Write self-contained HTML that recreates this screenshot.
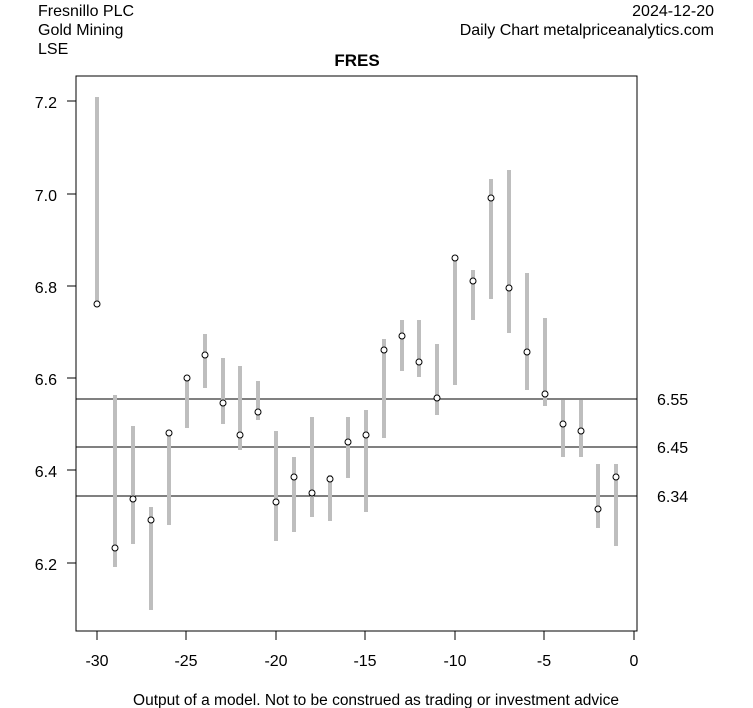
<!DOCTYPE html>
<html><head><style>body{margin:0;background:#fff}svg{display:block;font-family:"Liberation Sans",Arial,sans-serif}</style></head><body>
<svg width="753" height="708" xmlns="http://www.w3.org/2000/svg">
<rect width="753" height="708" fill="#fff"/>
<g font-size="16" fill="#000">
<text x="38" y="16">Fresnillo PLC</text>
<text x="38" y="35">Gold Mining</text>
<text x="38" y="54">LSE</text>
<text x="714" y="16" text-anchor="end">2024-12-20</text>
<text x="714" y="35" text-anchor="end">Daily Chart metalpriceanalytics.com</text>
<text x="357" y="66" text-anchor="middle" font-weight="bold" font-size="17">FRES</text>
<text x="376" y="705" text-anchor="middle" font-size="15.5">Output of a model. Not to be construed as trading or investment advice</text>
</g>
<rect x="76" y="76" width="561" height="555" fill="none" stroke="#000"/>
<g stroke="#000">
<line x1="67" y1="101" x2="76" y2="101"/><line x1="67" y1="194" x2="76" y2="194"/><line x1="67" y1="286" x2="76" y2="286"/><line x1="67" y1="378" x2="76" y2="378"/><line x1="67" y1="470" x2="76" y2="470"/><line x1="67" y1="563" x2="76" y2="563"/>
<line x1="97" y1="631" x2="97" y2="640"/><line x1="186" y1="631" x2="186" y2="640"/><line x1="276" y1="631" x2="276" y2="640"/><line x1="365" y1="631" x2="365" y2="640"/><line x1="455" y1="631" x2="455" y2="640"/><line x1="544" y1="631" x2="544" y2="640"/><line x1="634" y1="631" x2="634" y2="640"/>
<line x1="76" y1="399" x2="637" y2="399"/><line x1="76" y1="447" x2="637" y2="447"/><line x1="76" y1="496" x2="637" y2="496"/>
</g>
<g font-size="16" text-anchor="end">
<text x="57" y="108">7.2</text><text x="57" y="201">7.0</text><text x="57" y="293">6.8</text><text x="57" y="385">6.6</text><text x="57" y="477">6.4</text><text x="57" y="570">6.2</text>
</g>
<g font-size="16" text-anchor="middle">
<text x="97" y="666">-30</text><text x="186" y="666">-25</text><text x="276" y="666">-20</text><text x="365" y="666">-15</text><text x="455" y="666">-10</text><text x="544" y="666">-5</text><text x="634" y="666">0</text>
</g>
<g font-size="16"><text x="657" y="405">6.55</text><text x="657" y="453">6.45</text><text x="657" y="502">6.34</text></g>
<g stroke="#bebebe" stroke-width="4">
<line x1="97" x2="97" y1="97" y2="304"/>
<line x1="115" x2="115" y1="395" y2="567"/>
<line x1="133" x2="133" y1="426" y2="544"/>
<line x1="151" x2="151" y1="507" y2="610"/>
<line x1="169" x2="169" y1="433" y2="525"/>
<line x1="187" x2="187" y1="378" y2="428"/>
<line x1="205" x2="205" y1="334" y2="388"/>
<line x1="223" x2="223" y1="358" y2="424"/>
<line x1="240" x2="240" y1="366" y2="450"/>
<line x1="258" x2="258" y1="381" y2="420"/>
<line x1="276" x2="276" y1="431" y2="541"/>
<line x1="294" x2="294" y1="457" y2="532"/>
<line x1="312" x2="312" y1="417" y2="517"/>
<line x1="330" x2="330" y1="475" y2="521"/>
<line x1="348" x2="348" y1="417" y2="478"/>
<line x1="366" x2="366" y1="410" y2="512"/>
<line x1="384" x2="384" y1="339" y2="438"/>
<line x1="402" x2="402" y1="320" y2="371"/>
<line x1="419" x2="419" y1="320" y2="377"/>
<line x1="437" x2="437" y1="344" y2="415"/>
<line x1="455" x2="455" y1="258" y2="385"/>
<line x1="473" x2="473" y1="270" y2="320"/>
<line x1="491" x2="491" y1="179" y2="299"/>
<line x1="509" x2="509" y1="170" y2="333"/>
<line x1="527" x2="527" y1="273" y2="390"/>
<line x1="545" x2="545" y1="318" y2="406"/>
<line x1="563" x2="563" y1="400" y2="457"/>
<line x1="581" x2="581" y1="400" y2="457"/>
<line x1="598" x2="598" y1="464" y2="528"/>
<line x1="616" x2="616" y1="464" y2="546"/>
</g>
<g fill="#fff" stroke="#000">
<circle cx="97" cy="304" r="3"/><circle cx="115" cy="548" r="3"/><circle cx="133" cy="499" r="3"/><circle cx="151" cy="520" r="3"/><circle cx="169" cy="433" r="3"/><circle cx="187" cy="378" r="3"/><circle cx="205" cy="355" r="3"/><circle cx="223" cy="403" r="3"/><circle cx="240" cy="435" r="3"/><circle cx="258" cy="412" r="3"/><circle cx="276" cy="502" r="3"/><circle cx="294" cy="477" r="3"/><circle cx="312" cy="493" r="3"/><circle cx="330" cy="479" r="3"/><circle cx="348" cy="442" r="3"/><circle cx="366" cy="435" r="3"/><circle cx="384" cy="350" r="3"/><circle cx="402" cy="336" r="3"/><circle cx="419" cy="362" r="3"/><circle cx="437" cy="398" r="3"/><circle cx="455" cy="258" r="3"/><circle cx="473" cy="281" r="3"/><circle cx="491" cy="198" r="3"/><circle cx="509" cy="288" r="3"/><circle cx="527" cy="352" r="3"/><circle cx="545" cy="394" r="3"/><circle cx="563" cy="424" r="3"/><circle cx="581" cy="431" r="3"/><circle cx="598" cy="509" r="3"/><circle cx="616" cy="477" r="3"/>
</g>
</svg></body></html>
